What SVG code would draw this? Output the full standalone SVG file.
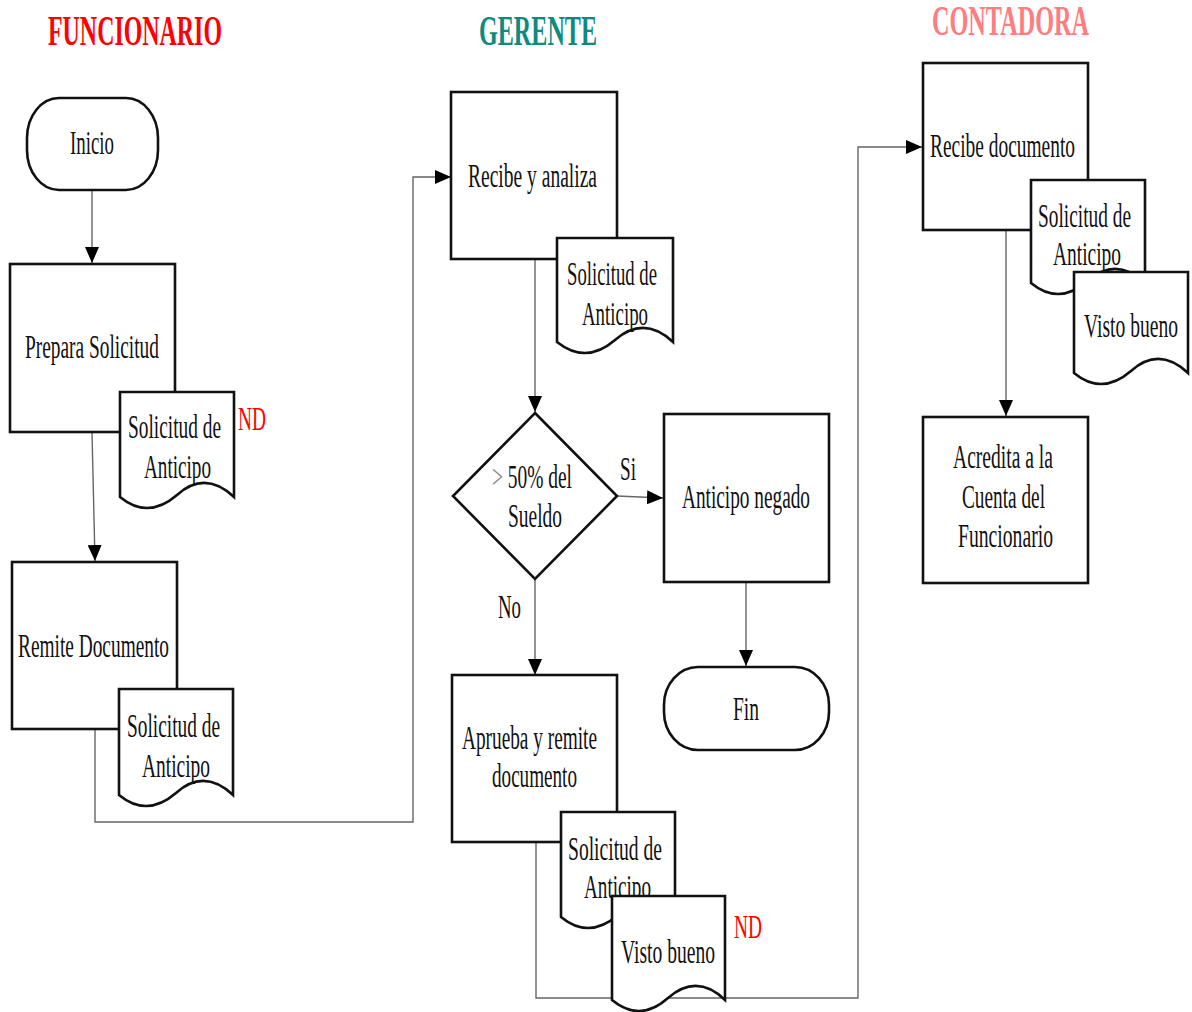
<svg xmlns="http://www.w3.org/2000/svg" width="1192" height="1012" viewBox="0 0 1192 1012">
<defs>
<style>
.box{fill:#fff;stroke:#111;stroke-width:2.6}
.doc{fill:#fff;stroke:#111;stroke-width:2.6;stroke-linejoin:miter}
.t{font-family:"Liberation Serif","Times New Roman",serif;font-size:19.5px;fill:#111}
.title{font-family:"Liberation Serif","Times New Roman",serif;font-size:24px;font-weight:bold}
.nd{font-family:"Liberation Serif","Times New Roman",serif;font-size:19.5px;fill:#ff0000}
.con{fill:none;stroke:#666;stroke-width:1.4}
</style>
<marker id="arr" markerUnits="userSpaceOnUse" markerWidth="16" markerHeight="14" viewBox="0 0 16 14" refX="16" refY="7" orient="auto">
<path d="M0,0 L16,7 L0,14 Z" fill="#000"/>
</marker>
</defs>

<g id="titles">
<text class="title" transform="translate(48,45) scale(1,1.76)" textLength="174" lengthAdjust="spacingAndGlyphs" fill="#ff0000">FUNCIONARIO</text>
<text class="title" transform="translate(479,45) scale(1,1.76)" textLength="118" lengthAdjust="spacingAndGlyphs" fill="#108a80">GERENTE</text>
<text class="title" transform="translate(932,35) scale(1,1.76)" textLength="157" lengthAdjust="spacingAndGlyphs" fill="#ff7c80">CONTADORA</text>
</g>

<g id="connectors">
<path class="con" d="M92,190 L92,263" marker-end="url(#arr)"/>
<path class="con" d="M92,432 L95,561" marker-end="url(#arr)"/>
<path class="con" d="M95,729 L95,822 L413,822 L413,177 L451,177" marker-end="url(#arr)"/>
<path class="con" d="M535,259 L535,412" marker-end="url(#arr)"/>
<path class="con" d="M617,496 L663,498" marker-end="url(#arr)"/>
<path class="con" d="M535,579 L535,675" marker-end="url(#arr)"/>
<path class="con" d="M746,582 L746,666" marker-end="url(#arr)"/>
<path class="con" d="M536,842 L536,998 L858,998 L858,147 L922,147" marker-end="url(#arr)"/>
<path class="con" d="M1006,230 L1006,416" marker-end="url(#arr)"/>
</g>

<g id="inicio">
<rect class="box" x="27" y="98" width="131" height="92" rx="32" ry="40"/>
<text class="t" transform="translate(70,154) scale(1,1.78)" textLength="44" lengthAdjust="spacingAndGlyphs">Inicio</text>
</g>

<g id="prepara">
<rect class="box" x="10" y="264" width="165" height="168"/>
<text class="t" transform="translate(25,358) scale(1,1.78)" textLength="134" lengthAdjust="spacingAndGlyphs">Prepara Solicitud</text>
</g>

<g id="doc1">
<path class="doc" d="M120,392 L234,392 L234,497 Q205,470 177,495 Q148,520 120,497 Z"/>
<text class="t" transform="translate(128,438) scale(1,1.78)" textLength="93" lengthAdjust="spacingAndGlyphs">Solicitud de</text>
<text class="t" transform="translate(144,478) scale(1,1.78)" textLength="67" lengthAdjust="spacingAndGlyphs">Anticipo</text>
<text class="nd" transform="translate(238,430) scale(1,1.78)" textLength="28" lengthAdjust="spacingAndGlyphs">ND</text>
</g>

<g id="remite">
<rect class="box" x="12" y="562" width="165" height="167"/>
<text class="t" transform="translate(18,657) scale(1,1.78)" textLength="151" lengthAdjust="spacingAndGlyphs">Remite Documento</text>
</g>

<g id="doc2">
<path class="doc" d="M119,689 L233,689 L233,795 Q204,768 176,793 Q147,818 119,795 Z"/>
<text class="t" transform="translate(127,737) scale(1,1.78)" textLength="93" lengthAdjust="spacingAndGlyphs">Solicitud de</text>
<text class="t" transform="translate(142,777) scale(1,1.78)" textLength="68" lengthAdjust="spacingAndGlyphs">Anticipo</text>
</g>

<g id="recibe">
<rect class="box" x="451" y="92" width="166" height="167"/>
<text class="t" transform="translate(468,187) scale(1,1.78)" textLength="129" lengthAdjust="spacingAndGlyphs">Recibe y analiza</text>
</g>

<g id="doc3">
<path class="doc" d="M557,238 L673,238 L673,342 Q644,315 615,340 Q586,365 557,342 Z"/>
<text class="t" transform="translate(567,285) scale(1,1.78)" textLength="90" lengthAdjust="spacingAndGlyphs">Solicitud de</text>
<text class="t" transform="translate(582,325) scale(1,1.78)" textLength="66" lengthAdjust="spacingAndGlyphs">Anticipo</text>
</g>

<g id="decision">
<path class="box" d="M535,413 L617,496 L535,579 L453,496 Z"/>
<text class="t" transform="translate(492,488) scale(1,1.78)" textLength="80" lengthAdjust="spacingAndGlyphs"><tspan fill="#888">&gt;</tspan> 50% del</text>
<text class="t" transform="translate(508,527) scale(1,1.78)" textLength="54" lengthAdjust="spacingAndGlyphs">Sueldo</text>
<text class="t" transform="translate(620,480) scale(1,1.78)" textLength="16" lengthAdjust="spacingAndGlyphs">Si</text>
<text class="t" transform="translate(498,618) scale(1,1.78)" textLength="23" lengthAdjust="spacingAndGlyphs">No</text>
</g>

<g id="negado">
<rect class="box" x="664" y="414" width="165" height="168"/>
<text class="t" transform="translate(682,508) scale(1,1.78)" textLength="128" lengthAdjust="spacingAndGlyphs">Anticipo negado</text>
</g>

<g id="fin">
<rect class="box" x="664" y="667" width="165" height="83" rx="34" ry="38"/>
<text class="t" transform="translate(733,720) scale(1,1.78)" textLength="26" lengthAdjust="spacingAndGlyphs">Fin</text>
</g>

<g id="aprueba">
<rect class="box" x="452" y="675" width="165" height="167"/>
<text class="t" transform="translate(462,749) scale(1,1.78)" textLength="135" lengthAdjust="spacingAndGlyphs">Aprueba y remite</text>
<text class="t" transform="translate(492,787) scale(1,1.78)" textLength="85" lengthAdjust="spacingAndGlyphs">documento</text>
</g>

<g id="doc4">
<path class="doc" d="M561,812 L675,812 L675,917 Q646,890 618,915 Q589,940 561,917 Z"/>
<text class="t" transform="translate(568,860) scale(1,1.78)" textLength="94" lengthAdjust="spacingAndGlyphs">Solicitud de</text>
<text class="t" transform="translate(584,898) scale(1,1.78)" textLength="67" lengthAdjust="spacingAndGlyphs">Anticipo</text>
</g>

<g id="doc5">
<path class="doc" d="M612,896 L725,896 L725,1000 Q697,973 668,998 Q640,1023 612,1000 Z"/>
<text class="t" transform="translate(621,963) scale(1,1.78)" textLength="94" lengthAdjust="spacingAndGlyphs">Visto bueno</text>
<text class="nd" transform="translate(734,938) scale(1,1.78)" textLength="28" lengthAdjust="spacingAndGlyphs">ND</text>
</g>

<g id="recibe-doc">
<rect class="box" x="923" y="63" width="165" height="167"/>
<text class="t" transform="translate(930,157) scale(1,1.78)" textLength="145" lengthAdjust="spacingAndGlyphs">Recibe documento</text>
</g>

<g id="doc6">
<path class="doc" d="M1031,180 L1145,180 L1145,283 Q1116,256 1088,281 Q1059,306 1031,283 Z"/>
<text class="t" transform="translate(1038,227) scale(1,1.78)" textLength="93" lengthAdjust="spacingAndGlyphs">Solicitud de</text>
<text class="t" transform="translate(1053,265) scale(1,1.78)" textLength="68" lengthAdjust="spacingAndGlyphs">Anticipo</text>
</g>

<g id="doc7">
<path class="doc" d="M1074,272 L1188,272 L1188,373 Q1159,346 1131,371 Q1102,396 1074,373 Z"/>
<text class="t" transform="translate(1084,337) scale(1,1.78)" textLength="94" lengthAdjust="spacingAndGlyphs">Visto bueno</text>
</g>

<g id="acredita">
<rect class="box" x="923" y="417" width="165" height="166"/>
<text class="t" transform="translate(953,468) scale(1,1.78)" textLength="100" lengthAdjust="spacingAndGlyphs">Acredita a la</text>
<text class="t" transform="translate(962,508) scale(1,1.78)" textLength="83" lengthAdjust="spacingAndGlyphs">Cuenta del</text>
<text class="t" transform="translate(958,547) scale(1,1.78)" textLength="95" lengthAdjust="spacingAndGlyphs">Funcionario</text>
</g>
</svg>
